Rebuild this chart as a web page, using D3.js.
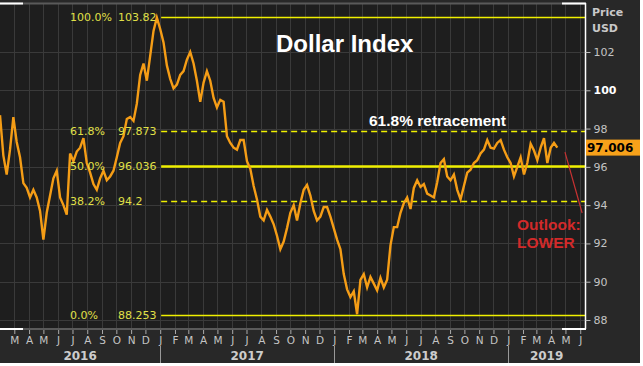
<!DOCTYPE html>
<html>
<head>
<meta charset="utf-8">
<script src="https://cdn.jsdelivr.net/npm/d3@7"></script>
<style>
body { margin: 0; background: #fff; }
svg text { font-family: "DejaVu Sans", sans-serif; }
</style>
</head>
<body>
<div id="chart"></div>
<script>
// weekly closes, first week ending 2016-01-31
var firstWeek = "2016-01-31";
var weeklyClose = [
    98.7, 96.6, 95.6, 96.9, 98.6, 97.3, 96.5, 95.15, 94.9, 94.4,
    94.8, 94.4, 93.7, 92.2, 93.6, 94.5, 95.4, 95.8, 94.4, 94.0,
    93.5, 96.7, 96.3, 96.8, 97.0, 97.5, 96.2, 95.7, 95.1, 94.8,
    95.4, 95.8, 95.3, 95.5, 95.8, 96.5, 97.25, 97.6, 98.5, 98.6,
    98.4, 99.3, 100.8, 101.4, 100.5, 101.8, 103.1, 103.8, 103.2, 102.5,
    101.3, 100.6, 100.1, 100.3, 100.8, 101.0, 101.6, 102.0, 101.4, 100.5,
    99.4, 100.4, 101.0, 100.5, 99.6, 99.1, 99.5, 99.4, 97.6, 97.25,
    97.0, 96.9, 97.4, 97.4, 96.3, 95.9, 95.0, 94.3, 93.4, 93.2,
    93.75, 93.4, 93.0, 92.4, 91.7, 92.1, 92.8, 93.6, 94.0, 93.2,
    94.1, 94.8, 95.05, 94.5, 93.7, 93.2, 93.4, 93.9, 93.9, 93.4,
    92.8, 92.2, 91.7, 90.4, 89.6, 89.2, 89.5, 88.3, 90.1, 90.4,
    89.7, 90.25, 89.9, 89.55, 90.2, 89.7, 90.1, 91.9, 92.85, 92.85,
    93.6, 94.1, 94.4, 93.8, 94.9, 95.3, 94.95, 95.1, 94.6, 94.5,
    94.4, 95.2, 96.2, 96.4, 95.5, 95.3, 95.6, 94.8, 94.3, 95.0,
    95.7, 95.85, 96.2, 96.35, 96.7, 96.9, 97.4, 97.0, 96.95, 97.25,
    97.4, 96.9, 96.5, 96.2, 95.5, 96.0, 96.5, 95.6, 96.2, 97.2,
    96.85, 96.35, 97.0, 97.5, 96.2, 97.0, 97.25, 97.006
];

var yTicks = [88, 90, 92, 94, 96, 98, 100, 102];
var monthLetters = ["J", "F", "M", "A", "M", "J", "J", "A", "S", "O", "N", "D"];
var years = [2016, 2017, 2018, 2019];

var fibPercents = ["100.0%", "61.8%", "50.0%", "38.2%", "0.0%"];
var fibValues = [103.82, 97.873, 96.036, 94.2, 88.253];
var fibStart = "2017-01-03";

var lastPrice = 97.006;
var outlookDates = ["2019-04-30", "2019-06-05"];
var outlookValues = [96.77, 93.59];

var parse = d3.timeParse("%Y-%m-%d");
var start = parse(firstWeek);
var series = weeklyClose.map(function(v, i) {
    return { date: d3.timeDay.offset(start, i * 7), value: v };
});

var width = 640, height = 363,
    plotW = 585, plotTop = 3, plotBottom = 329;

var svg = d3.select("#chart").append("svg")
    .attr("width", width)
    .attr("height", height)
    .style("display", "block");

svg.append("rect").attr("width", width).attr("height", height).attr("fill", "#282828");
svg.append("rect").attr("x", 0).attr("y", plotTop).attr("width", plotW).attr("height", plotBottom - plotTop).attr("fill", "#1e1e1e");

var x = d3.scaleTime()
    .domain([parse("2016-01-31"), parse("2019-06-11")])
    .range([0, plotW]);

var y = d3.scaleLinear()
    .domain([88, 102])
    .range([320, 52]);

svg.append("clipPath").attr("id", "plotclip")
    .append("rect").attr("x", 0).attr("y", plotTop).attr("width", plotW).attr("height", plotBottom - plotTop);

var months = d3.timeMonth.range(parse("2016-03-01"), parse("2019-06-02"));

// grid
svg.append("g").selectAll("line")
    .data(months)
    .enter().append("line")
    .attr("x1", function(d) { return Math.round(x(d)) + 0.5; })
    .attr("x2", function(d) { return Math.round(x(d)) + 0.5; })
    .attr("y1", plotTop)
    .attr("y2", plotBottom)
    .attr("stroke", "#3a3a3a");

svg.append("g").selectAll("line")
    .data(yTicks)
    .enter().append("line")
    .attr("x1", 0)
    .attr("x2", plotW)
    .attr("y1", function(d) { return Math.round(y(d)) + 0.5; })
    .attr("y2", function(d) { return Math.round(y(d)) + 0.5; })
    .attr("stroke", "#3a3a3a");

// fibonacci levels
var fibX = x(parse(fibStart));
svg.append("g").selectAll("line")
    .data(fibValues)
    .enter().append("line")
    .attr("x1", fibX)
    .attr("x2", plotW)
    .attr("y1", function(d) { return Math.round(y(d)) + 0.5; })
    .attr("y2", function(d) { return Math.round(y(d)) + 0.5; })
    .attr("stroke", "#f0f000")
    .attr("stroke-width", function(d, i) { return i == 2 ? 2.5 : 1.4; })
    .attr("stroke-dasharray", function(d, i) { return (i == 1 || i == 3) ? "6,4" : null; });

// price line
var line = d3.line()
    .x(function(d) { return x(d.date); })
    .y(function(d) { return y(d.value); });

svg.append("path")
    .datum(series)
    .attr("clip-path", "url(#plotclip)")
    .attr("fill", "none")
    .attr("stroke", "#f59d16")
    .attr("stroke-width", 2.4)
    .attr("stroke-linejoin", "miter")
    .attr("d", line);

// fib labels on top of the line
var fibLabels = svg.append("g")
    .style("font-size", "11px")
    .attr("fill", "#e0e048");
fibLabels.selectAll(".pct")
    .data(fibPercents)
    .enter().append("text")
    .attr("x", 70)
    .attr("y", function(d, i) { return y(fibValues[i]) + 4; })
    .text(function(d) { return d; });
fibLabels.selectAll(".val")
    .data(fibValues)
    .enter().append("text")
    .attr("x", 118)
    .attr("y", function(d) { return y(d) + 4; })
    .text(function(d) { return d; });

// frame
svg.append("line").attr("x1", 0).attr("x2", plotW).attr("y1", 3.5).attr("y2", 3.5).attr("stroke", "#5a5a5a").attr("stroke-width", 2);
svg.append("line").attr("x1", 0).attr("x2", plotW).attr("y1", plotBottom).attr("y2", plotBottom).attr("stroke", "#5a5a5a").attr("stroke-width", 2);
[[0, 23], [562, 586]].forEach(function(s) {
    svg.append("line").attr("x1", s[0]).attr("x2", s[1]).attr("y1", 3.5).attr("y2", 3.5).attr("stroke", "#fff").attr("stroke-width", 2);
    svg.append("line").attr("x1", s[0]).attr("x2", s[1]).attr("y1", plotBottom).attr("y2", plotBottom).attr("stroke", "#fff").attr("stroke-width", 2);
});
svg.append("line").attr("x1", plotW + 0.5).attr("x2", plotW + 0.5).attr("y1", 3).attr("y2", plotBottom).attr("stroke", "#fff").attr("stroke-width", 1.5);

// y axis on the right
var yAxis = d3.axisRight(y).tickValues(yTicks).tickSize(5).tickPadding(3);
var gy = svg.append("g")
    .attr("transform", "translate(" + (plotW + 0.5) + ",0)")
    .call(yAxis);
gy.select(".domain").remove();
gy.selectAll(".tick line").attr("stroke", "#bbb");
gy.selectAll(".tick text")
    .attr("fill", function(d) { return d == 100 ? "#fff" : "#c4c4c4"; })
    .style("font-weight", function(d) { return d == 100 ? "bold" : "normal"; })
    .style("font-size", "11px")
    .style("font-family", "DejaVu Sans");

svg.append("text").attr("x", 592).attr("y", 16).attr("fill", "#c8c8c8")
    .style("font-size", "11px").style("font-weight", "bold").text("Price");
svg.append("text").attr("x", 592).attr("y", 32).attr("fill", "#c8c8c8")
    .style("font-size", "11px").style("font-weight", "bold").text("USD");

// last price tag
svg.append("rect")
    .attr("x", plotW + 1)
    .attr("y", y(lastPrice) - 8)
    .attr("width", width - plotW - 1)
    .attr("height", 16)
    .attr("fill", "#f7a11a");
svg.append("text")
    .attr("x", plotW + 2)
    .attr("y", y(lastPrice) + 4.5)
    .attr("fill", "#000")
    .style("font-size", "12px")
    .style("font-weight", "bold")
    .text(lastPrice.toFixed(3));

// x axis, month letters
var xAxis = d3.axisBottom(x)
    .tickValues(months)
    .tickSize(4)
    .tickPadding(3)
    .tickFormat(function(d) { return monthLetters[d.getMonth()]; });
var gx = svg.append("g")
    .attr("transform", "translate(0," + (plotBottom + 1) + ")")
    .call(xAxis);
gx.select(".domain").remove();
gx.selectAll(".tick line").attr("stroke", "#aaa");
gx.selectAll(".tick text")
    .attr("fill", "#c4c4c4")
    .style("font-size", "10.5px")
    .style("font-family", "DejaVu Sans");

// years
var yearStarts = years.map(function(yr) { return new Date(yr, 0, 1); });
svg.append("g").selectAll("line")
    .data(yearStarts.slice(1))
    .enter().append("line")
    .attr("x1", function(d) { return Math.round(x(d)) + 0.5; })
    .attr("x2", function(d) { return Math.round(x(d)) + 0.5; })
    .attr("y1", 346)
    .attr("y2", height)
    .attr("stroke", "#999");

svg.append("g").selectAll("text")
    .data(years)
    .enter().append("text")
    .attr("x", function(yr) {
        var a = Math.max(0, x(new Date(yr, 0, 1))),
            b = Math.min(plotW, x(new Date(yr + 1, 0, 1)));
        return (a + b) / 2;
    })
    .attr("y", 360)
    .attr("text-anchor", "middle")
    .attr("fill", "#cccccc")
    .style("font-size", "12px")
    .style("font-weight", "bold")
    .text(function(d) { return d; });

// annotations
svg.append("text")
    .attr("x", 276).attr("y", 52)
    .attr("fill", "#fff")
    .style("font-family", "Liberation Sans, Arial, sans-serif")
    .style("font-size", "24px").style("font-weight", "bold")
    .text("Dollar Index");

svg.append("text")
    .attr("x", 369).attr("y", 126)
    .attr("fill", "#fff")
    .style("font-family", "Liberation Sans, Arial, sans-serif")
    .style("font-size", "15.5px").style("font-weight", "bold")
    .text("61.8% retracement");

svg.append("line")
    .attr("x1", x(parse(outlookDates[0]))).attr("y1", y(outlookValues[0]))
    .attr("x2", x(parse(outlookDates[1]))).attr("y2", y(outlookValues[1]))
    .attr("stroke", "#c83232")
    .attr("stroke-width", 1.2);

svg.append("text")
    .attr("x", 517).attr("y", 230)
    .attr("fill", "#d22a2a")
    .style("font-family", "Liberation Sans, Arial, sans-serif")
    .style("font-size", "15.5px").style("font-weight", "bold")
    .text("Outlook:");
svg.append("text")
    .attr("x", 517).attr("y", 248)
    .attr("fill", "#d22a2a")
    .style("font-family", "Liberation Sans, Arial, sans-serif")
    .style("font-size", "15.5px").style("font-weight", "bold")
    .text("LOWER");
</script>
</body>
</html>
